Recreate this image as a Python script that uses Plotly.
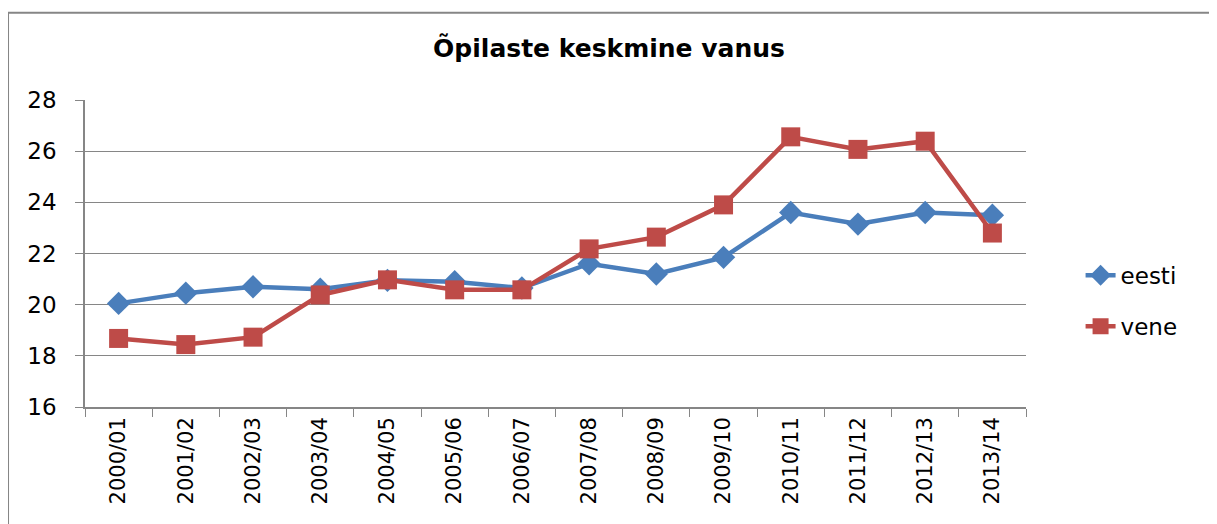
import plotly.graph_objects as go

categories = ["2000/01", "2001/02", "2002/03", "2003/04", "2004/05", "2005/06", "2006/07",
              "2007/08", "2008/09", "2009/10", "2010/11", "2011/12", "2012/13", "2013/14"]
eesti = [20.05, 20.45, 20.7, 20.6, 20.95, 20.9, 20.65, 21.6, 21.2, 21.85, 23.6, 23.15, 23.6, 23.5]
vene = [18.68, 18.44, 18.73, 20.38, 20.97, 20.58, 20.58, 22.18, 22.64, 23.9, 26.56, 26.07, 26.39, 22.8]

title_text = "Õpilaste keskmine vanus"
y_ticks = [16, 18, 20, 22, 24, 26, 28]

BLUE = "#4A7EBB"
RED = "#BE4B48"
GRID = "#868686"
FONT = "DejaVu Sans"

fig = go.Figure()
fig.add_trace(go.Scatter(
    x=categories, y=eesti, name="eesti", mode="lines+markers",
    line=dict(color=BLUE, width=4.5),
    marker=dict(symbol="diamond", size=18, color=BLUE),
    legendgroup="a",
))
fig.add_trace(go.Scatter(
    x=categories, y=vene, name="vene", mode="lines+markers",
    line=dict(color=RED, width=4.5),
    marker=dict(symbol="square", size=19, color=RED),
    legendgroup="b",
))

fig.update_layout(
    width=1217, height=524,
    margin=dict(l=77, r=199, t=92, b=125),
    paper_bgcolor="white", plot_bgcolor="white",
    font=dict(family=FONT, color="black"),
    title=dict(text="<b>" + title_text + "</b>", x=601 / 1217, xref="container", xanchor="center",
               y=1 - 40 / 524, yref="container", yanchor="middle",
               font=dict(size=25, family=FONT, color="black")),
    legend=dict(x=1.058, xanchor="left", y=0.346, yanchor="middle",
                font=dict(size=23, family=FONT, color="black"),
                traceorder="grouped", tracegroupgap=18, bgcolor="rgba(0,0,0,0)"),
    shapes=[dict(type="rect", xref="paper", yref="paper",
                 x0=-0.0818, x1=1.1977, y0=-0.5, y1=1.284,
                 line=dict(color=GRID, width=2), fillcolor="rgba(0,0,0,0)", layer="below")],
)
fig.update_xaxes(
    type="category", tickangle=-90, tickson="boundaries",
    ticks="outside", ticklen=8, tickcolor=GRID, tickwidth=1,
    showline=True, linecolor=GRID, linewidth=1.5,
    showgrid=False, tickfont=dict(size=21, family=FONT, color="black"),
    range=[-0.5, 13.5],
)
fig.update_yaxes(
    range=[16, 28], tickvals=y_ticks,
    ticks="outside", ticklen=8, tickcolor=GRID,
    showline=True, linecolor=GRID, linewidth=1.5,
    showgrid=True, gridcolor=GRID, gridwidth=1,
    zeroline=False, tickfont=dict(size=23, family=FONT, color="black"),
    ticklabelstandoff=14,
)

fig.write_html("out.html")
